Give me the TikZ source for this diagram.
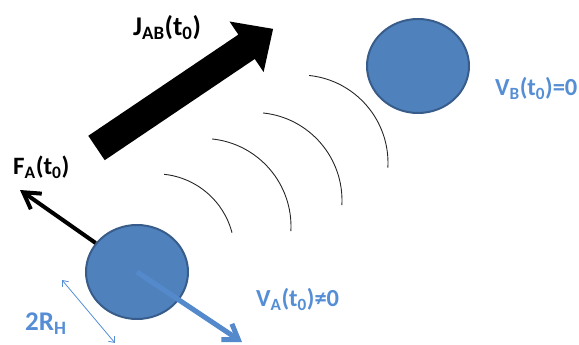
\documentclass[tikz,border=0pt]{standalone}
\usepackage{fontspec}
\setmainfont{Carlito}
\usetikzlibrary{shapes.geometric, arrows.meta}

\definecolor{ballfill}{RGB}{79,129,189}
\definecolor{ballline}{RGB}{56,93,138}
\definecolor{labelblue}{RGB}{85,142,213}
\definecolor{velblue}{RGB}{84,137,204}

\begin{document}
\begin{tikzpicture}[x=1pt, y=1pt]
        \tikzstyle{ball} = [ellipse, minimum width=102pt, minimum height=94pt, inner sep=0pt, draw=ballline, line width=2pt, fill=ballfill]
        \tikzstyle{blacklabel} = [anchor=base west, inner sep=0pt, font=\fontsize{25}{29}\selectfont\bfseries, text=black]
        \tikzstyle{bluelabel} = [blacklabel, font=\fontsize{24.5}{28}\selectfont\bfseries, text=labelblue]
        \tikzstyle{wave} = [line width=0.9pt, black!85]
        \tikzstyle{force} = [line width=4pt, -{Straight Barb[length=16pt, width=19pt]}]
        \tikzstyle{velocity} = [line width=5pt, velblue, -{Straight Barb[length=14pt, width=19pt]}]
        \tikzstyle{size} = [line width=0.8pt, labelblue, {Straight Barb[length=5pt, width=8pt]}-{Straight Barb[length=5pt, width=8pt]}]

        \useasboundingbox (0,0) rectangle (579,345);

        % the two bodies
        \node (ballA) [ball] at (137,73) {};
        \node (ballB) [ball] at (418,279) {};

        % free ends
        \coordinate (fTip) at (20,155);
        \coordinate (vTip) at (242,3);
        \coordinate (dTop) at (62,65);
        \coordinate (dBot) at (115,2);
        \coordinate (jTail) at (96.5,197);

        % waves from A to B
        \foreach \cx/\cy/\r/\e in {300/182/88/-3, 254/144.5/88/-3, 203/118.5/88/-3, 156/92.6/78.5/14.5}
            \draw [wave] (\cx,\cy) ++(84:\r) arc [start angle=84, end angle=\e, radius=\r];

        % flux arrow
        \fill [black, shift={(jTail)}, rotate=34] (0,-14.7) -- (181,-14.7) -- (181,-30.5) -- (213,0) -- (181,30.5) -- (181,14.7) -- (0,14.7) -- cycle;

        \draw [force] (ballA) -- (fTip);
        \draw [velocity] (ballA.center) -- (vTip);
        \draw [size] (dTop) -- (dBot);

        \node (jLabel) [blacklabel, font=\fontsize{27}{31}\selectfont\bfseries] at (133,309) {J\textsubscript{AB}(t\textsubscript{0})};
        \node (fLabel) [blacklabel] at (13,170) {F\textsubscript{A}(t\textsubscript{0})};
        \node (vbLabel) [bluelabel] at (495,249) {V\textsubscript{B}(t\textsubscript{0})=0};
        \node (vaLabel) [bluelabel] at (256,38) {V\textsubscript{A}(t\textsubscript{0})≠0};
        \node (rLabel) [bluelabel, font=\fontsize{27}{31}\selectfont\bfseries] at (25,14) {2R\textsubscript{H}};
\end{tikzpicture}
\end{document}
